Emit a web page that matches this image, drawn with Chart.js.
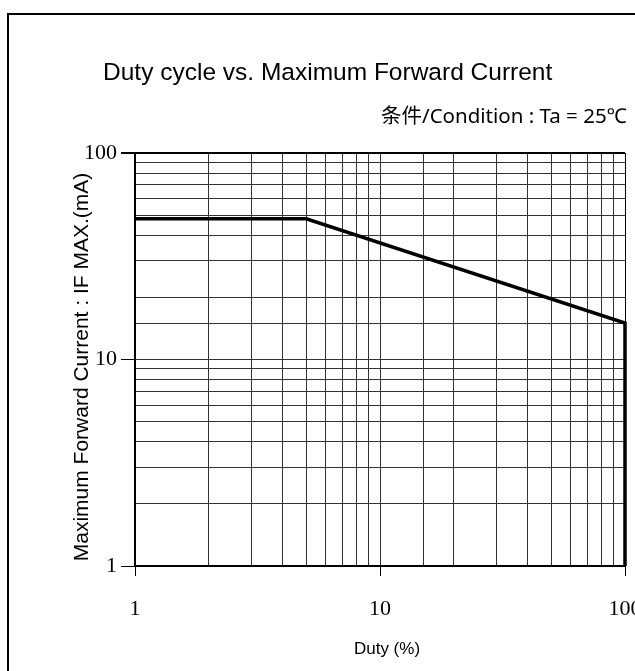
<!DOCTYPE html>
<html>
<head>
<meta charset="utf-8">
<script src="https://cdn.jsdelivr.net/npm/chart.js@4.4.1/dist/chart.umd.min.js"></script>
<style>
html, body { margin: 0; padding: 0; background: #fff; }
#myChart { display: block; }
</style>
</head>
<body>
<canvas id="myChart" width="635" height="671"></canvas>
<script>
// duty (%) vs maximum forward current (mA)
const dutyPercent = [1, 5, 100, 100];
const maxCurrent = [48, 48, 15, 1];
const xTickLabels = [1, 10, 100];
const yTickLabels = [1, 10, 100];

const chartTitle = 'Duty cycle vs. Maximum Forward Current';
const conditionText = '条件/Condition : Ta = 25℃';
const xTitle = 'Duty (%)';
const yTitle = 'Maximum Forward Current : IF MAX.(mA)';

function isMajor(ctx, list) {
    return ctx.tick && list.includes(ctx.tick.value);
}

// frame + texts around the plot
const headerPlugin = {
    id: 'header',
    beforeDraw(chart) {
        const ctx = chart.ctx;
        ctx.save();
        ctx.fillStyle = '#fff';
        ctx.fillRect(0, 0, chart.width, chart.height);
        ctx.strokeStyle = '#000';
        ctx.lineWidth = 2;
        ctx.strokeRect(8, 14, 800, 800);
        ctx.fillStyle = '#000';
        ctx.textBaseline = 'alphabetic';

        ctx.textAlign = 'left';
        ctx.font = '24.5px "Liberation Sans"';
        ctx.fillText(chartTitle, 103, 80);

        ctx.textAlign = 'right';
        ctx.font = '20.5px "Noto Sans", "Noto Sans CJK SC"';
        ctx.fillText(conditionText, 627, 123);

        ctx.textAlign = 'center';
        ctx.font = '17px "Liberation Sans"';
        ctx.fillText(xTitle, 387, 654);

        ctx.translate(88, 367);
        ctx.rotate(-Math.PI / 2);
        ctx.font = '21px "Liberation Sans"';
        ctx.fillText(yTitle, 0, 0);
        ctx.restore();
    }
};

const ctx = document.getElementById('myChart').getContext('2d');
new Chart(ctx, {
    type: 'scatter',
    data: {
        datasets: [{
            data: dutyPercent.map((d, i) => ({ x: d, y: maxCurrent[i] })),
            showLine: true,
            borderColor: '#000',
            borderWidth: 3.5,
            pointRadius: 0,
            tension: 0,
            clip: false
        }]
    },
    options: {
        responsive: false,
        animation: false,
        layout: { padding: { top: 153, right: 10, left: 0, bottom: 0 } },
        plugins: {
            legend: { display: false },
            tooltip: { enabled: false }
        },
        scales: {
            x: {
                type: 'logarithmic',
                min: 1,
                max: 100,
                afterFit: s => { s.height = 105; s.paddingLeft = 0; s.paddingRight = 0; },
                border: { color: '#000', width: 2 },
                grid: {
                    color: c => (c.tick && c.tick.value === 100) ? '#000' : '#333',
                    lineWidth: 1,
                    tickLength: 10,
                    tickColor: c => isMajor(c, xTickLabels) ? '#000' : 'rgba(0,0,0,0)'
                },
                ticks: {
                    autoSkip: false,
                    maxRotation: 0,
                    padding: 20,
                    color: '#000',
                    font: { family: '"Liberation Serif"', size: 22 },
                    callback: v => xTickLabels.includes(v) ? String(v) : ''
                }
            },
            y: {
                type: 'logarithmic',
                min: 1,
                max: 100,
                afterFit: s => { s.width = 135; s.paddingTop = 0; s.paddingBottom = 0; },
                border: { color: '#000', width: 2 },
                grid: {
                    color: c => (c.tick && c.tick.value === 100) ? '#000' : '#333',
                    lineWidth: c => (c.tick && c.tick.value === 100) ? 2 : 1,
                    tickLength: 14,
                    tickColor: c => isMajor(c, yTickLabels) ? '#000' : 'rgba(0,0,0,0)'
                },
                ticks: {
                    autoSkip: false,
                    padding: 4,
                    color: '#000',
                    font: { family: '"Liberation Serif"', size: 22 },
                    callback: v => yTickLabels.includes(v) ? String(v) : ''
                }
            }
        }
    },
    plugins: [headerPlugin]
});
</script>
</body>
</html>
